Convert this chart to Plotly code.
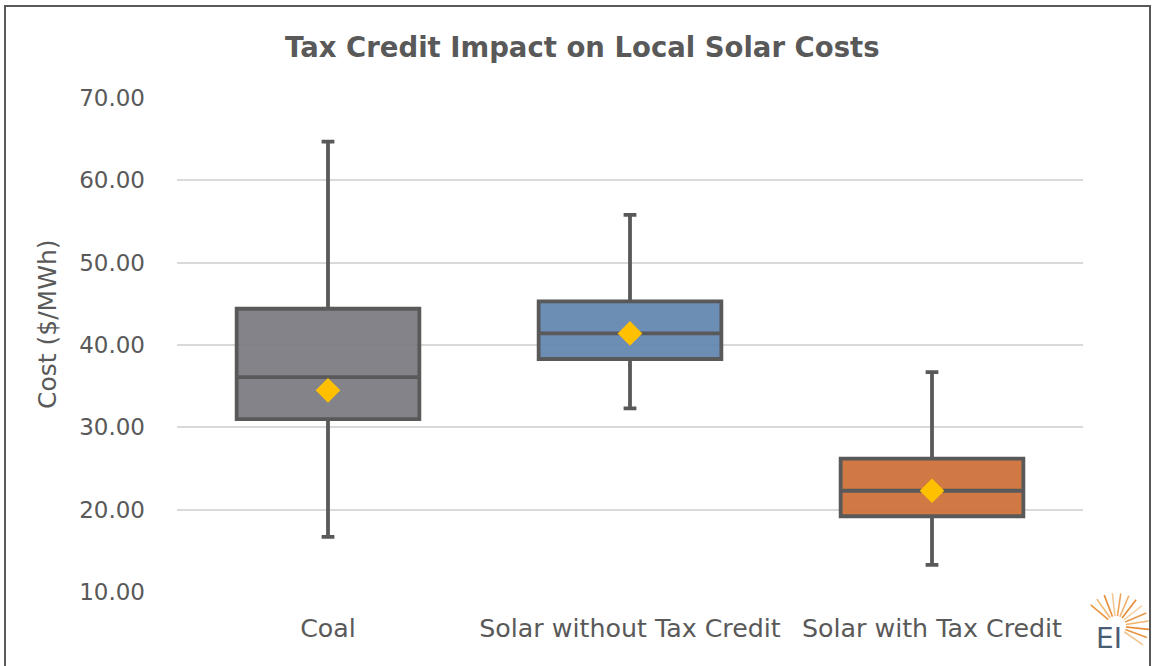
import math
import plotly.graph_objects as go

categories = ["Coal", "Solar without Tax Credit", "Solar with Tax Credit"]
lower_whisker = [16.7, 32.3, 13.3]
q1_values = [31.0, 38.3, 19.2]
median_values = [36.1, 41.4, 22.3]
q3_values = [44.4, 45.3, 26.2]
upper_whisker = [64.7, 55.8, 36.7]
mean_values = [34.5, 41.4, 22.3]
fill_colors = ["rgba(125,124,131,0.95)", "rgba(100,135,176,0.95)", "rgba(205,114,58,0.95)"]
y_ticks = [10, 20, 30, 40, 50, 60, 70]

W, H = 1153, 666
L, R, T, B = 177, 70, 98, 74
pw, ph = W - L - R, H - T - B

font_family = "'DejaVu Sans', sans-serif"
text_color = "#595959"

fig = go.Figure()
for i, cat in enumerate(categories):
    fig.add_trace(go.Box(
        x=[cat],
        q1=[q1_values[i]], median=[median_values[i]], q3=[q3_values[i]],
        lowerfence=[lower_whisker[i]], upperfence=[upper_whisker[i]],
        fillcolor=fill_colors[i],
        line=dict(color="#595959", width=3.8),
        width=0.605, whiskerwidth=0.07,
        boxpoints=False, showlegend=False, hoverinfo="skip",
    ))

fig.add_trace(go.Scatter(
    x=categories, y=mean_values, mode="markers",
    marker=dict(symbol="diamond", size=19, color="#FFC000", line=dict(width=0)),
    showlegend=False, hoverinfo="skip",
))

def px_to_paper_x(px):
    return (px - L) / pw

def px_to_paper_y(py):
    return (H - B - py) / ph

shapes = [dict(
    type="rect", xref="paper", yref="paper",
    x0=px_to_paper_x(5), x1=px_to_paper_x(1150),
    y0=px_to_paper_y(672), y1=px_to_paper_y(6),
    line=dict(color="#595959", width=2), fillcolor="rgba(0,0,0,0)", layer="above",
)]

# EI logo sunburst rays (decoration)
cx, cy = 1116, 626
ray_colors = ["#f2c58e", "#e9953f", "#e6892f", "#f0b46a", "#e79a4a", "#f5d3a8",
              "#e68a33", "#f0b070", "#eea35a", "#f3c896", "#e88f3a", "#f0b46a", "#e9953f"]
n = len(ray_colors)
for k, col in enumerate(ray_colors):
    ang = math.radians(-35 + k * (175 / (n - 1)))
    r0, r1 = 10, 33
    x0p = cx + r0 * math.cos(ang)
    y0p = cy - r0 * math.sin(ang)
    x1p = cx + r1 * math.cos(ang)
    y1p = cy - r1 * math.sin(ang)
    shapes.append(dict(
        type="line", xref="paper", yref="paper",
        x0=px_to_paper_x(x0p), y0=px_to_paper_y(y0p),
        x1=px_to_paper_x(x1p), y1=px_to_paper_y(y1p),
        line=dict(color=col, width=1.6),
    ))

fig.update_layout(
    width=W, height=H,
    margin=dict(l=L, r=R, t=T, b=B),
    paper_bgcolor="white", plot_bgcolor="white",
    boxmode="overlay",
    font=dict(family=font_family, color=text_color, size=22),
    title=dict(
        text="<b>Tax Credit Impact on Local Solar Costs</b>",
        x=0.505, xanchor="center", xref="container",
        y=1 - 47 / H, yanchor="middle",
        font=dict(family="'DejaVu Sans', sans-serif", size=27.5, color=text_color),
    ),
    xaxis=dict(
        type="category", categoryorder="array", categoryarray=categories,
        showgrid=False, showline=False, ticks="",
        tickfont=dict(size=25.3, color=text_color),
        ticklabelstandoff=19,
        range=[-0.5, 2.5],
    ),
    yaxis=dict(
        range=[10, 70], tickvals=y_ticks, tickformat=".2f",
        showgrid=True, gridcolor="#d9d9d9", gridwidth=1.5,
        zeroline=False, showline=False, ticks="",
        tickfont=dict(size=23, color=text_color),
        ticklabelstandoff=31,
    ),
    shapes=shapes,
    annotations=[
        dict(
            text="Cost ($/MWh)", xref="paper", yref="paper",
            x=px_to_paper_x(47), y=px_to_paper_y(324),
            xanchor="center", yanchor="middle", textangle=-90, showarrow=False,
            font=dict(size=25, color=text_color),
        ),
        dict(
            text="EI", xref="paper", yref="paper",
            x=px_to_paper_x(1109), y=px_to_paper_y(638),
            xanchor="center", yanchor="middle", showarrow=False,
            font=dict(family="'DejaVu Sans', sans-serif", size=28, color="#4b5d73"),
        ),
    ],
)

fig.write_html(
    "out.html",
    config={"displayModeBar": False},
    post_script="document.body.style.margin='0';document.body.style.overflow='hidden';",
)
